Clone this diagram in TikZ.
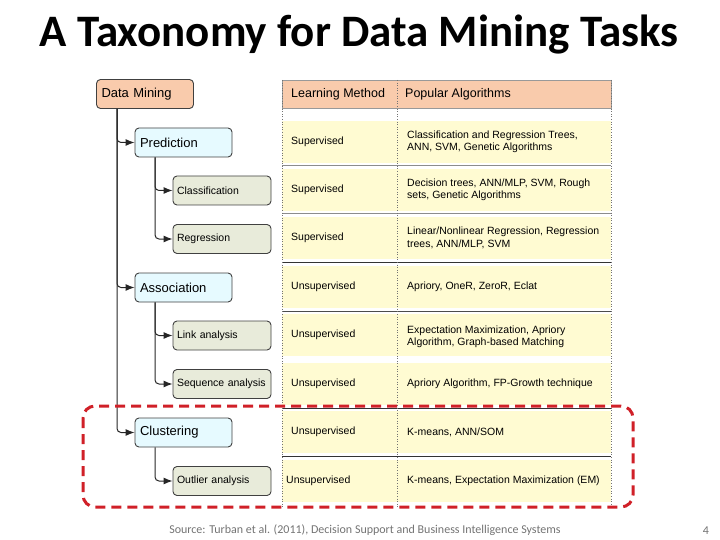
\documentclass[tikz,border=0pt]{standalone}
\usepackage{fontspec}
\setmainfont{Liberation Sans}
\newfontfamily\slidefont{Carlito}
\usetikzlibrary{arrows.meta, positioning}
\definecolor{peachfill}{RGB}{249,203,172}
\definecolor{cyanfill}{RGB}{230,250,255}
\definecolor{sagefill}{RGB}{232,235,218}
\definecolor{rowyellow}{RGB}{255,251,210}
\definecolor{markred}{RGB}{208,32,40}

\begin{document}
\begin{tikzpicture}[x=1pt, y=-1pt,
    task/.style={rectangle, rounded corners=4pt, draw=black!75, line width=0.9pt, fill=#1,
                 minimum height=29pt, inner xsep=5pt, text width=87pt, align=left,
                 font=\fontsize{13}{15}\selectfont},
    subtask/.style={task=sagefill, inner xsep=4pt, text width=90pt, font=\fontsize{10.5}{12.5}\selectfont},
    conn/.style={draw=black!85, line width=1pt, rounded corners=4pt, -{Latex[length=9pt,width=7pt]}},
    cell/.style={anchor=west, align=left, inner sep=0pt, font=\fontsize{10.5}{12.5}\selectfont},
    rowline/.style={draw=#1, line width=1pt},
    colline/.style={draw=black!55, line width=0.6pt, dotted}
]
    \useasboundingbox (0,0) rectangle (720,540);

    % Title
    \node[anchor=base, font=\slidefont\bfseries\fontsize{45}{48}\selectfont] (title) at (359,47) {A Taxonomy for Data Mining Tasks};

    % Table background
    \fill[peachfill] (282,80) rectangle (611,108);
    \draw[black!40, line width=0.6pt] (282,80) rectangle (611,108);
    \foreach \yc in {142,190,238,287,335,384,432,481}
        \fill[rowyellow] (282,\yc-21) rectangle (611,\yc+21);
    \draw[rowline=black!45] (282,166) -- (611,166);
    \draw[rowline=black!45] (282,214) -- (611,214);
    \draw[rowline=black!80] (282,262) -- (611,262);
    \draw[rowline=black!70] (282,311) -- (611,311);
    \draw[rowline=black!80] (282,408) -- (611,408);
    \draw[rowline=black!80] (282,456) -- (611,456);
    \draw[colline] (282,80) -- (282,507);
    \draw[colline] (397,80) -- (397,507);
    \draw[colline] (611,80) -- (611,507);

    % Header
    \node[cell, font=\fontsize{12.5}{14}\selectfont] (hmethod) at (291,94) {Learning Method};
    \node[cell, font=\fontsize{12.5}{14}\selectfont] (halgo) at (405,94) {Popular Algorithms};

    % Tree of tasks
    \node[task=peachfill] (dm) at (145,94) {Data Mining};
    \node[task=cyanfill] (pred) at (183.5,142.5) {Prediction};
    \node[subtask] (cls) at (222,190.5) {Classification};
    \node[subtask] (reg) at (222,239) {Regression};
    \node[task=cyanfill] (assoc) at (183.5,287.5) {Association};
    \node[subtask] (link) at (222,335.5) {Link analysis};
    \node[subtask] (seq) at (222,384) {Sequence analysis};
    \node[task=cyanfill] (clust) at (183.5,432.5) {Clustering};
    \node[subtask] (outl) at (222,481) {Outlier analysis};

    % Connectors
    \foreach \child in {pred,assoc,clust}
        \draw[conn] (dm.south -| 117,0) |- (\child.west);
    \draw[conn] (pred.south -| 155,0) |- (cls.west);
    \draw[conn] (pred.south -| 155,0) |- (reg.west);
    \draw[conn] (assoc.south -| 155,0) |- (link.west);
    \draw[conn] (assoc.south -| 155,0) |- (seq.west);
    \draw[conn] (clust.south -| 155,0) |- (outl.west);

    % Learning methods
    \node[cell] (mpred) at (291,142) {Supervised};
    \node[cell] (mcls) at (291,190) {Supervised};
    \node[cell] (mreg) at (291,238) {Supervised};
    \node[cell] (massoc) at (291,287) {Unsupervised};
    \node[cell] (mlink) at (291,335) {Unsupervised};
    \node[cell] (mseq) at (291,384) {Unsupervised};
    \node[cell] (mclust) at (291,432) {Unsupervised};
    \node[cell] (moutl) at (286,481) {Unsupervised};

    % Popular algorithms
    \node[cell] (apred) at (407,142) {Classification and Regression Trees,\\ANN, SVM, Genetic Algorithms};
    \node[cell] (acls) at (407,190) {Decision trees, ANN/MLP, SVM, Rough\\sets, Genetic Algorithms};
    \node[cell] (areg) at (407,238) {Linear/Nonlinear Regression, Regression\\trees, ANN/MLP, SVM};
    \node[cell] (aassoc) at (407,287) {Apriory, OneR, ZeroR, Eclat};
    \node[cell] (alink) at (407,337) {Expectation Maximization, Apriory\\Algorithm, Graph-based Matching};
    \node[cell] (aseq) at (407,384) {Apriory Algorithm, FP-Growth technique};
    \node[cell] (aclust) at (407,432) {K-means, ANN/SOM};
    \node[cell] (aoutl) at (407,481) {K-means, Expectation Maximization (EM)};

    % Highlight
    \draw[markred, line width=3pt, rounded corners=12pt, dash pattern=on 10pt off 6pt] (83,406) rectangle (633,507);

    % Footer
    \node[font=\slidefont\fontsize{12}{14}\selectfont, text=black!55] (source) at (365,530) {Source: Turban et al. (2011), Decision Support and Business Intelligence Systems};
    \node[font=\slidefont\fontsize{12}{14}\selectfont, text=black!55] (pagenum) at (706,531) {4};
\end{tikzpicture}
\end{document}
